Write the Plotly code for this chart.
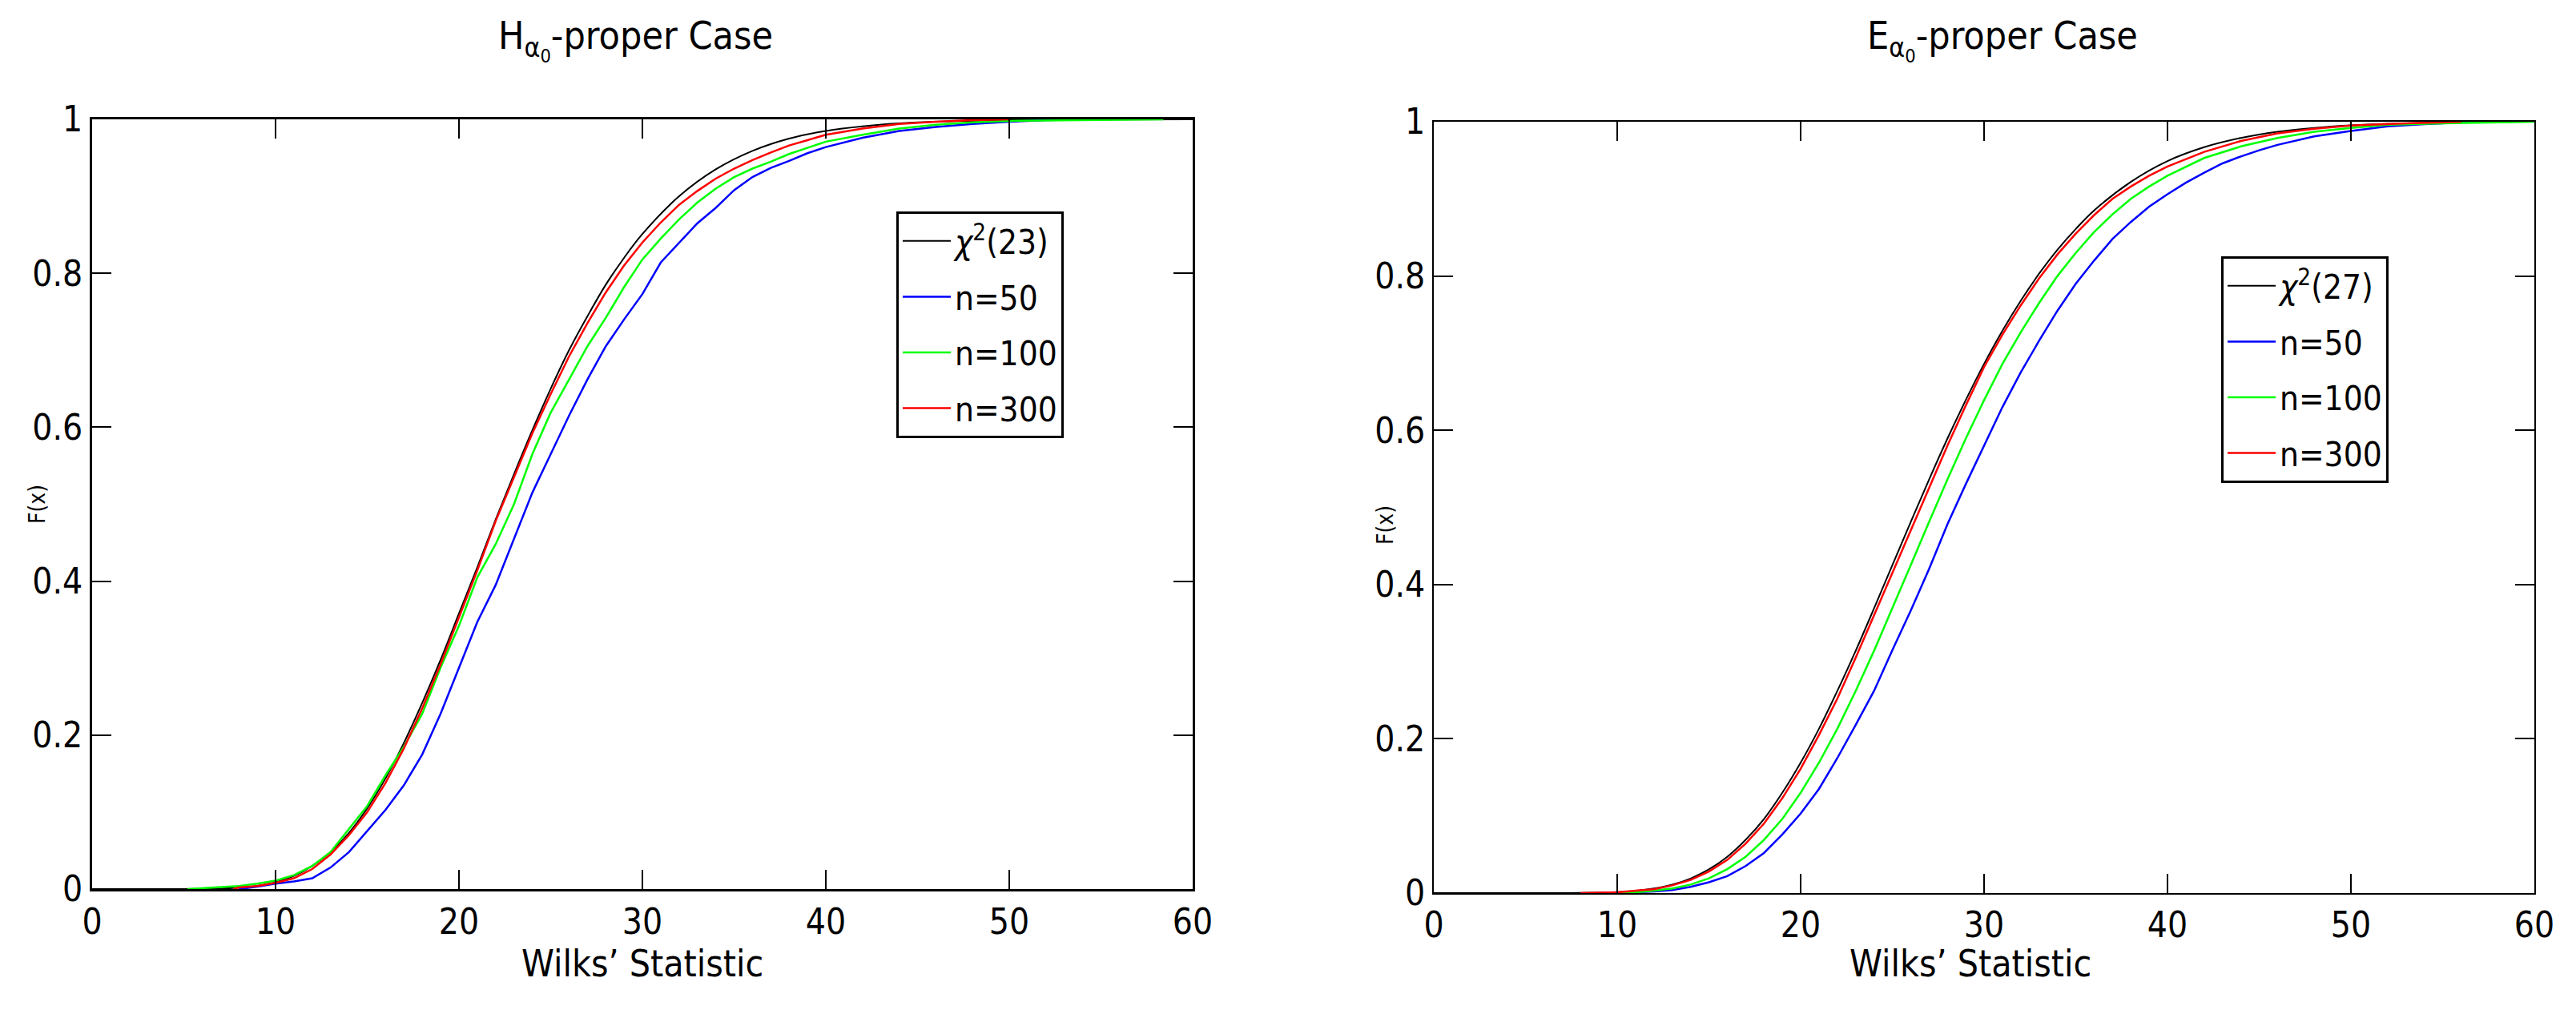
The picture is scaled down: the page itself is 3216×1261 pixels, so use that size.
import plotly.graph_objects as go
from plotly.subplots import make_subplots

FONT = "Liberation Sans Narrow, DejaVu Sans Condensed, Arial Narrow, sans-serif"

# ---- left panel: H_a0-proper case ----
h_chi_x = [0, 5, 6, 7, 8, 9, 10, 11, 12, 13, 14, 15, 16, 17, 18, 19, 20, 21, 22, 23,
           24, 25, 26, 27, 28, 29, 30, 32, 34, 36, 38, 40, 42, 45, 50, 55, 60]
h_chi_y = [0, 0.0001, 0.0002, 0.0006, 0.0017, 0.0042, 0.0089, 0.017, 0.030, 0.048,
           0.073, 0.105, 0.144, 0.190, 0.242, 0.298, 0.358, 0.418, 0.480, 0.539,
           0.596, 0.650, 0.700, 0.744, 0.785, 0.820, 0.851, 0.900, 0.935, 0.959,
           0.975, 0.985, 0.991, 0.996, 0.999, 0.9997, 1.0]

h_n50_x = [8, 9, 10, 11, 12, 13, 14, 15, 16, 17, 18, 19, 20, 21, 22, 23, 24, 25, 26, 27,
           28, 29, 30, 31, 32, 33, 34, 35, 36, 37, 38, 39, 40, 42, 44, 46, 48, 50, 52, 54.9]
h_n50_y = [0, 0.003, 0.007, 0.010, 0.014, 0.028, 0.048, 0.075, 0.103, 0.135, 0.175,
           0.228, 0.287, 0.347, 0.395, 0.455, 0.515, 0.565, 0.615, 0.662, 0.705, 0.740,
           0.773, 0.814, 0.840, 0.865, 0.885, 0.908, 0.925, 0.937, 0.946, 0.956, 0.964,
           0.976, 0.985, 0.990, 0.994, 0.997, 0.999, 1.0]

h_n100_x = [5.2, 6, 7, 8, 9, 10, 11, 12, 13, 14, 15, 16, 17, 18, 19, 20, 21, 22, 23, 24,
            25, 26, 27, 28, 29, 30, 31, 32, 33, 34, 35, 36, 37, 38, 39, 40,
            42, 44, 46, 48, 50, 54, 58.4]
h_n100_y = [0, 0.001, 0.002, 0.004, 0.007, 0.011, 0.018, 0.030, 0.048, 0.078, 0.108,
            0.148, 0.185, 0.228, 0.288, 0.342, 0.405, 0.448, 0.500, 0.565, 0.619, 0.662,
            0.705, 0.742, 0.782, 0.818, 0.845, 0.870, 0.892, 0.910, 0.925, 0.936, 0.945,
            0.955, 0.963, 0.971, 0.980, 0.988, 0.993, 0.996, 0.998, 0.999, 1.0]

h_n300_x = [7.7, 8, 9, 10, 11, 12, 13, 14, 15, 16, 17, 18, 19, 20, 21, 22, 23, 24, 25,
            26, 27, 28, 29, 30, 31, 32, 33, 34, 35, 36, 37, 38, 39, 40, 42, 44, 46, 48, 50]
h_n300_y = [0, 0.002, 0.004, 0.008, 0.014, 0.026, 0.045, 0.070, 0.100, 0.138, 0.183,
            0.235, 0.292, 0.352, 0.414, 0.478, 0.535, 0.592, 0.643, 0.692, 0.735, 0.775,
            0.810, 0.840, 0.866, 0.889, 0.907, 0.923, 0.936, 0.947, 0.957, 0.966, 0.973,
            0.980, 0.988, 0.994, 0.997, 0.999, 1.0]

# ---- right panel: E_a0-proper case ----
e_chi_x = [0, 8, 10, 11, 12, 13, 14, 15, 16, 17, 18, 19, 20, 21, 22, 23, 24, 25, 26, 27,
           28, 29, 30, 31, 32, 33, 34, 35, 36, 38, 40, 42, 44, 46, 48, 50, 55, 60]
e_chi_y = [0, 0.0002, 0.0013, 0.0029, 0.0059, 0.0109, 0.0189, 0.0307, 0.047, 0.069,
           0.096, 0.130, 0.169, 0.213, 0.262, 0.314, 0.369, 0.425, 0.481, 0.536, 0.589,
           0.639, 0.686, 0.729, 0.768, 0.803, 0.834, 0.861, 0.885, 0.922, 0.949, 0.967,
           0.979, 0.987, 0.992, 0.9954, 0.999, 1.0]

e_n50_x = [10, 11, 12, 13, 14, 15, 16, 17, 18, 19, 20, 21, 22, 23, 24, 25, 26, 27, 28,
           29, 30, 31, 32, 33, 34, 35, 36, 37, 38, 39, 40, 41, 42, 43, 44, 45, 46,
           48, 50, 52, 54, 56, 58]
e_n50_y = [0, 0.001, 0.002, 0.004, 0.008, 0.014, 0.022, 0.035, 0.052, 0.076, 0.103,
           0.135, 0.175, 0.218, 0.262, 0.315, 0.366, 0.420, 0.478, 0.530, 0.580, 0.630,
           0.675, 0.716, 0.755, 0.790, 0.820, 0.848, 0.870, 0.890, 0.906, 0.921, 0.934,
           0.946, 0.955, 0.963, 0.970, 0.981, 0.988, 0.994, 0.997, 0.999, 1.0]

e_n100_x = [10, 11, 12, 13, 14, 15, 16, 17, 18, 19, 20, 21, 22, 23, 24, 25, 26, 27, 28,
            29, 30, 31, 32, 33, 34, 35, 36, 37, 38, 39, 40, 42, 44, 46, 48, 50, 52, 55, 58, 60]
e_n100_y = [0, 0.001, 0.003, 0.006, 0.011, 0.019, 0.031, 0.047, 0.069, 0.096, 0.130,
            0.169, 0.213, 0.262, 0.314, 0.369, 0.425, 0.481, 0.536, 0.589, 0.639, 0.686,
            0.727, 0.765, 0.800, 0.830, 0.857, 0.880, 0.900, 0.916, 0.930, 0.953, 0.968,
            0.979, 0.987, 0.992, 0.996, 0.998, 0.999, 1.0]

e_n300_x = [8, 10, 11, 12, 13, 14, 15, 16, 17, 18, 19, 20, 21, 22, 23, 24, 25, 26, 27,
            28, 29, 30, 31, 32, 33, 34, 35, 36, 37, 38, 39, 40, 42, 44, 46, 48, 50, 53, 56]
e_n300_y = [0, 0.001, 0.003, 0.005, 0.010, 0.017, 0.028, 0.043, 0.064, 0.090, 0.123,
            0.161, 0.205, 0.252, 0.305, 0.360, 0.415, 0.470, 0.525, 0.580, 0.632, 0.682,
            0.724, 0.762, 0.797, 0.828, 0.855, 0.879, 0.900, 0.916, 0.930, 0.942, 0.961,
            0.975, 0.985, 0.991, 0.995, 0.998, 1.0]

# page body has an 8px margin, so the figure is a bit smaller than the window
OFF = 8
W, H = 3216 - 2 * OFF, 1261 - 2 * OFF


def px(sx):
    return (sx - OFF) / W


def py(sy):
    return 1 - (sy - OFF) / H


fig = make_subplots(rows=1, cols=2)

panels = [
    (1, "legend", "<i>χ</i><sup>2</sup>(23)",
     [(h_chi_x, h_chi_y), (h_n50_x, h_n50_y), (h_n100_x, h_n100_y), (h_n300_x, h_n300_y)]),
    (2, "legend2", "<i>χ</i><sup>2</sup>(27)",
     [(e_chi_x, e_chi_y), (e_n50_x, e_n50_y), (e_n100_x, e_n100_y), (e_n300_x, e_n300_y)]),
]
colors = ["black", "#0000ff", "#00ff00", "#ff0000"]

for col, leg, chi_name, series in panels:
    names = [chi_name, "n=50", "n=100", "n=300"]
    for k, ((xs, ys), name, c) in enumerate(zip(series, names, colors)):
        fig.add_trace(
            go.Scatter(x=xs, y=ys, name=name, mode="lines", legend=leg,
                       legendgroup=f"{leg}_{k}",
                       line=dict(color=c, width=2 if c == "black" else 2.5,
                                 shape="spline" if c == "black" else "linear")),
            row=1, col=col,
        )

# separate legend groups so tracegroupgap spreads the rows like the reference
legend_style = dict(xanchor="left", yanchor="top", bordercolor="black", borderwidth=3,
                    bgcolor="white", font=dict(family=FONT, size=42), itemwidth=60,
                    tracegroupgap=12)

fig.update_layout(
    width=W, height=H,
    margin=dict(l=0, r=0, t=0, b=0),
    plot_bgcolor="white", paper_bgcolor="white",
    font=dict(family=FONT, color="black", size=44),
    xaxis=dict(domain=[px(115), px(1489)]),
    yaxis=dict(domain=[py(1110), py(149)]),
    xaxis2=dict(domain=[px(1790), px(3164)]),
    yaxis2=dict(domain=[py(1115), py(152)]),
    legend=dict(x=px(1119), y=py(264), **legend_style),
    legend2=dict(x=px(2773), y=py(320), **legend_style),
)

for i, lw in [(1, 3), (2, 2)]:
    common = dict(showline=True, linecolor="black", linewidth=lw, mirror="allticks",
                  ticks="inside", ticklen=24, tickwidth=2, tickcolor="black",
                  showgrid=False, zeroline=False, automargin=False,
                  tickfont=dict(family=FONT, size=44, color="black"))
    fig.update_xaxes(range=[0, 60], dtick=10, row=1, col=i, **common)
    fig.update_yaxes(range=[0, 1], dtick=0.2, row=1, col=i, **common)

# titles and axis labels
for txt, cx in [("H<sub>α<sub>0</sub></sub>-proper Case", 793),
                ("E<sub>α<sub>0</sub></sub>-proper Case", 2500)]:
    fig.add_annotation(text=txt, x=px(cx), y=py(14), xref="paper", yref="paper",
                       xanchor="center", yanchor="top", showarrow=False,
                       font=dict(size=48))
for cx in [802, 2460]:
    fig.add_annotation(text="Wilks’ Statistic", x=px(cx), y=py(1203),
                       xref="paper", yref="paper", xanchor="center", yanchor="middle",
                       showarrow=False, font=dict(size=46))
for cx, cy in [(47, 630), (1729, 656)]:
    fig.add_annotation(text="F(x)", x=px(cx), y=py(cy), textangle=-90,
                       xref="paper", yref="paper", xanchor="center", yanchor="middle",
                       showarrow=False, font=dict(size=28))

fig.write_html("out.html")
